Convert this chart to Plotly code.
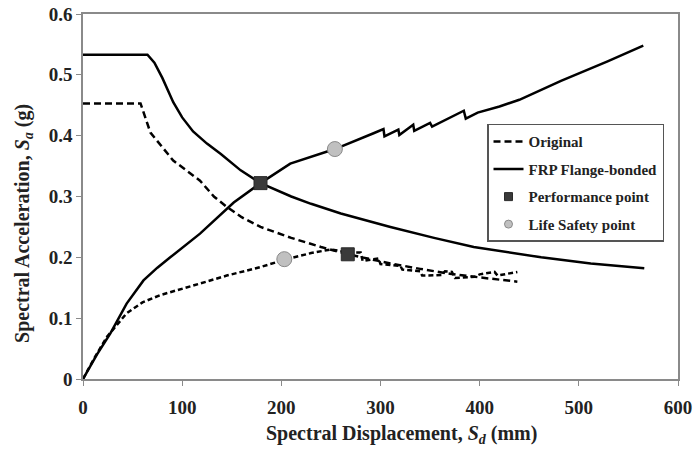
import plotly.graph_objects as go

# Original building: demand spectrum (dashed)
orig_demand_x = [0, 58, 68, 80, 91, 105, 118, 132, 145, 160, 179, 210, 240, 267, 290, 310, 340, 370, 400, 438]
orig_demand_y = [0.453, 0.453, 0.405, 0.380, 0.359, 0.342, 0.326, 0.300, 0.283, 0.266, 0.250, 0.232, 0.217, 0.205, 0.197, 0.190, 0.181, 0.173, 0.167, 0.160]

# Original building: capacity curve (dashed)
orig_cap_x = [0, 12, 24, 44, 60, 78, 112, 145, 179, 203, 230, 250, 267, 280, 282, 298, 300, 320, 322, 340, 342, 362, 365, 372, 375, 395, 400, 415, 418, 438]
orig_cap_y = [0, 0.036, 0.069, 0.108, 0.126, 0.138, 0.154, 0.170, 0.184, 0.196, 0.207, 0.213, 0.208, 0.208, 0.194, 0.198, 0.189, 0.186, 0.180, 0.177, 0.170, 0.171, 0.177, 0.176, 0.166, 0.168, 0.172, 0.176, 0.170, 0.176]

# FRP flange-bonded: demand spectrum (solid)
frp_demand_x = [0, 65, 72, 80, 91, 100, 111, 125, 139, 159, 179, 210, 230, 260, 310, 354, 394, 430, 462, 512, 566]
frp_demand_y = [0.533, 0.533, 0.520, 0.495, 0.455, 0.430, 0.407, 0.387, 0.370, 0.343, 0.322, 0.300, 0.288, 0.272, 0.250, 0.232, 0.217, 0.208, 0.200, 0.190, 0.182]

# FRP flange-bonded: capacity curve (solid)
frp_cap_x = [0, 14, 27.6, 44, 61, 75, 88, 118, 152, 179, 209, 254, 293, 303, 304, 318, 319, 333, 334, 350, 352, 384, 386, 398, 420, 440, 482, 529, 565]
frp_cap_y = [0, 0.040, 0.075, 0.124, 0.162, 0.183, 0.200, 0.239, 0.290, 0.322, 0.354, 0.378, 0.404, 0.411, 0.399, 0.410, 0.401, 0.418, 0.408, 0.421, 0.415, 0.441, 0.428, 0.438, 0.448, 0.459, 0.490, 0.522, 0.548]

# Points
perf_x = [179, 267]
perf_y = [0.322, 0.205]
life_x = [254, 203]
life_y = [0.378, 0.197]

x_ticks = [0, 100, 200, 300, 400, 500, 600]
y_ticks = [0, 0.1, 0.2, 0.3, 0.4, 0.5, 0.6]

x_title = "Spectral Displacement, <i>S<sub>d</sub></i> (mm)"
y_title = "Spectral Acceleration, <i>S<sub>a</sub></i> (g)"

FONT = "Liberation Serif, Times New Roman, serif"

fig = go.Figure()
fig.add_trace(go.Scatter(x=orig_demand_x, y=orig_demand_y, mode="lines", name="Original",
                         legendgroup="g1", line=dict(color="black", width=2.5, dash="7px,4px")))
fig.add_trace(go.Scatter(x=orig_cap_x, y=orig_cap_y, mode="lines", name="Original",
                         legendgroup="g1", showlegend=False,
                         line=dict(color="black", width=2.5, dash="5px,3px")))
fig.add_trace(go.Scatter(x=frp_demand_x, y=frp_demand_y, mode="lines", name="FRP Flange-bonded",
                         legendgroup="g2", line=dict(color="black", width=2.5)))
fig.add_trace(go.Scatter(x=frp_cap_x, y=frp_cap_y, mode="lines", name="FRP Flange-bonded",
                         legendgroup="g2", showlegend=False, line=dict(color="black", width=2.5)))
fig.add_trace(go.Scatter(x=perf_x, y=perf_y, mode="markers", name="Performance point",
                         legendgroup="g3", showlegend=False,
                         marker=dict(symbol="square", size=13, color="#3a3a3a",
                                     line=dict(color="#2a2a2a", width=1))))
fig.add_trace(go.Scatter(x=life_x, y=life_y, mode="markers", name="Life Safety point",
                         legendgroup="g4", showlegend=False,
                         marker=dict(symbol="circle", size=15, color="#c0c0c0",
                                     line=dict(color="#8a8a8a", width=1))))
# legend entries with smaller symbols
fig.add_trace(go.Scatter(x=[None], y=[None], mode="markers", name="Performance point",
                         legendgroup="g3",
                         marker=dict(symbol="square", size=8, color="#3a3a3a",
                                     line=dict(color="#2a2a2a", width=1))))
fig.add_trace(go.Scatter(x=[None], y=[None], mode="markers", name="Life Safety point",
                         legendgroup="g4",
                         marker=dict(symbol="circle", size=8, color="#c0c0c0",
                                     line=dict(color="#8a8a8a", width=1))))

axis_common = dict(showline=True, mirror=True, linecolor="#8a8a8a", linewidth=1.5,
                   ticks="outside", ticklen=5, tickcolor="#8a8a8a", tickwidth=1,
                   showgrid=False, zeroline=False, automargin=False,
                   tickfont=dict(family=FONT, size=19, color="#222", weight="bold"))

title_font = dict(family=FONT, size=20, color="#222", weight="bold")

fig.update_layout(
    width=694, height=450,
    margin=dict(l=83, r=16, t=14, b=71),
    paper_bgcolor="white", plot_bgcolor="white",
    font=dict(family=FONT, color="#222"),
    xaxis=dict(range=[0, 600], tickvals=x_ticks, ticklabelstandoff=5, **axis_common),
    yaxis=dict(range=[0, 0.6], tickvals=y_ticks, **axis_common),
    legend=dict(x=0.679, y=0.699, xanchor="left", yanchor="top",
                bgcolor="white", bordercolor="#555", borderwidth=1.5,
                font=dict(family=FONT, size=15, color="#222", weight="bold"),
                tracegroupgap=5),
    showlegend=True,
    annotations=[
        dict(text=x_title, xref="paper", yref="paper", x=0.536, y=-0.153,
             xanchor="center", yanchor="middle", showarrow=False, font=title_font),
        dict(text=y_title, xref="paper", yref="paper", x=-0.099, y=0.425,
             xanchor="center", yanchor="middle", showarrow=False, textangle=-90,
             font=title_font),
    ],
)

fig.write_html("out.html", config={"displayModeBar": False},
               post_script="document.body.style.margin='0';")
